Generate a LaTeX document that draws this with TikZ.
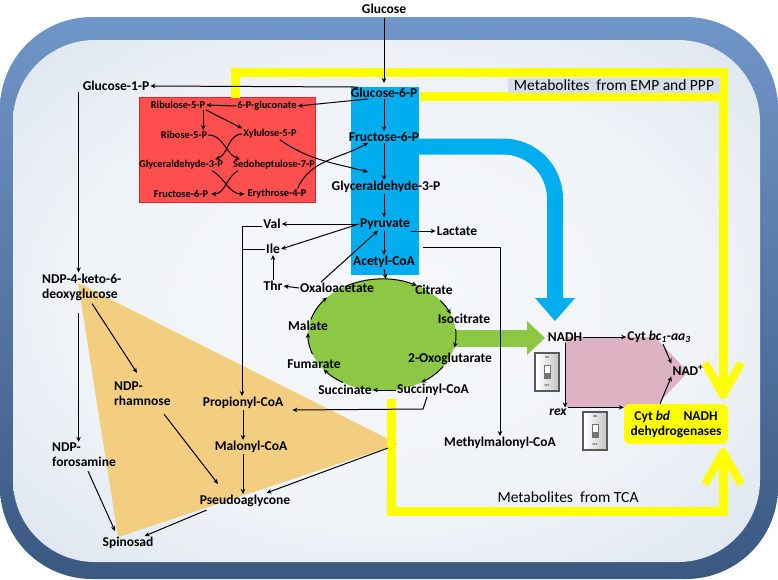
\documentclass[tikz,border=0pt]{standalone}
\usepackage{fontspec}
\setmainfont{Carlito}
\usetikzlibrary{arrows.meta,calc,shapes.geometric}
\definecolor{cellblue}{RGB}{112,150,200}
\definecolor{cellmid}{RGB}{95,130,178}
\definecolor{celldark}{RGB}{58,88,128}
\definecolor{cellin}{RGB}{200,212,228}
\definecolor{cellctr}{RGB}{246,248,251}
\definecolor{redbox}{RGB}{255,78,78}
\definecolor{redline}{RGB}{226,36,36}
\definecolor{cyanbox}{RGB}{0,174,239}
\definecolor{tcagreen}{RGB}{141,200,68}
\definecolor{tri}{RGB}{243,206,128}
\definecolor{pinkpoly}{RGB}{221,178,195}
\definecolor{ylw}{RGB}{255,255,0}
\definecolor{labgrey}{RGB}{214,222,233}
\pgfdeclareradialshading{cellshade}{\pgfpoint{0bp}{0bp}}{%
  color(0bp)=(cellctr); color(22bp)=(cellctr!85!cellin); color(40bp)=(cellctr!35!cellin);
  color(50bp)=(cellin); color(72bp)=(cellin!92!black)}
\tikzset{
  lightswitch/.pic={
    \draw[line width=1.2pt, draw=black!65, fill=white] (-12,-19) rectangle (12,19);
    \shade[left color=white, right color=black!22] (-10.5,-17.5) rectangle (10.5,17.5);
    \node[font=\fontsize{3}{3}\selectfont, inner sep=0pt] (-on) at (0,-14) {ON};
    \node[font=\fontsize{3}{3}\selectfont, inner sep=0pt] (-off) at (0,14) {OFF};
    \fill[black!55] (-3.5,-7) rectangle (3.5,7);
    \fill[white] (-2.5,-6) rectangle (2.5,1);
  }
}
\begin{document}
\begin{tikzpicture}[x=1pt,y=-1pt,
  lbl/.style={font=\bfseries\fontsize{13.5}{15}\selectfont, inner sep=1pt},
  rlbl/.style={font=\bfseries\fontsize{10.4}{12}\selectfont, inner sep=1pt},
  twol/.style={lbl, align=left, anchor=west},
  arr/.style={-{Stealth[length=5pt,width=4.5pt]}, line width=1pt},
  ln/.style={line width=1pt},
  ypath/.style={draw=ylw, line width=9pt},
  ychev/.style={draw=ylw, line width=8pt, line join=round},
  meta/.style={font=\fontsize{15.5}{17}\selectfont, inner sep=1pt}
]
\useasboundingbox (0,0) rectangle (778,579);
% cell
\shade[top color=cellblue, middle color=cellmid, bottom color=celldark, rounded corners=92pt] (0,17) rectangle (778,579);
\shade[shading=cellshade, rounded corners=82pt] (13,40) rectangle (760,562);

% coloured areas
\fill[tri] (78,283) -- (398,444) -- (118,537) -- cycle;
\draw[redline, fill=redbox, line width=1pt] (139,97) rectangle (315,202);
\fill[cyanbox] (351,87) rectangle (419,275);
\coordinate (tca) at (382,335);
\fill[tcagreen] (tca) ellipse [x radius=74, y radius=56];

\draw[cyanbox, line width=16pt] (415,146.5) -- (503,146.5) arc[start angle=-90, end angle=0, radius=52] -- (555,300);
\fill[cyanbox] (535,298) -- (575,298) -- (555,321) -- cycle;
\fill[tcagreen] (450,329.5) rectangle (528,346.5);
\fill[tcagreen] (527,321) -- (545,338) -- (527,355) -- cycle;
\fill[pinkpoly] (565,337) -- (655,337) -- (688,372) -- (655,407) -- (565,407) -- cycle;

% yellow paths
\draw[ypath, line join=miter] (235,98) -- (235,72.5) -- (723,72.5) -- (723,392);
\draw[ypath] (420,96.5) -- (723,96.5);
\draw[ychev] (705,363) -- (723,395) -- (741,363);
\draw[ypath, line join=miter] (391,399) -- (391,511.5) -- (723,511.5) -- (723,456);
\draw[ychev] (705,484) -- (723,452) -- (741,484);

\node[meta, fill=labgrey, minimum width=212pt, minimum height=15pt] (emp) at (614,85) {Metabolites~ from EMP and PPP};
\node[meta] (tcalab) at (568,497) {Metabolites~ from TCA};

% nodes
\node[lbl] (glc) at (384,9) {Glucose};
\node[lbl] (g6p) at (384,93) {Glucose-6-P};
\node[lbl] (f6p) at (384,137) {Fructose-6-P};
\node[lbl] (gap) at (386,187) {Glyceraldehyde-3-P};
\node[lbl] (pyr) at (385,224) {Pyruvate};
\node[lbl] (acoa) at (384,262) {Acetyl-CoA};
\node[lbl] (g1p) at (116,86) {Glucose-1-P};
\node[rlbl] (r5pu) at (178,105) {Ribulose-5-P};
\node[rlbl] (pglu) at (267,106) {6-P-gluconate};
\node[rlbl] (r5p) at (184,135) {Ribose-5-P};
\node[rlbl] (x5p) at (270,134) {Xylulose-5-P};
\node[rlbl] (rgap) at (181,165) {Glyceraldehyde-3-P};
\node[rlbl] (s7p) at (274,165) {Sedoheptulose-7-P};
\node[rlbl] (rf6p) at (181,194) {Fructose-6-P};
\node[rlbl] (e4p) at (277,194) {Erythrose-4-P};
\node[lbl] (val) at (272,224) {Val};
\node[lbl] (ile) at (273,249) {Ile};
\node[lbl] (thr) at (273,286) {Thr};
\node[lbl] (oaa) at (337,288) {Oxaloacetate};
\node[lbl] (cit) at (434,290) {Citrate};
\node[lbl] (icit) at (464,319) {Isocitrate};
\node[lbl] (oxo) at (450,359) {2-Oxoglutarate};
\node[lbl] (scoa) at (433,390) {Succinyl-CoA};
\node[lbl] (succ) at (345,390) {Succinate};
\node[lbl] (fum) at (314,364) {Fumarate};
\node[lbl] (mal) at (308,326) {Malate};
\node[lbl] (lac) at (457,231) {Lactate};
\node[lbl] (mmcoa) at (500,443) {Methylmalonyl-CoA};
\node[twol] (ndpk) at (41,287) {NDP-4-keto-6-\\deoxyglucose};
\node[twol] (ndpr) at (113,394) {NDP-\\rhamnose};
\node[twol] (ndpf) at (51,455) {NDP-\\forosamine};
\node[lbl] (spin) at (128,543) {Spinosad};
\node[lbl] (pcoa) at (243,403) {Propionyl-CoA};
\node[lbl] (mcoa) at (251,447) {Malonyl-CoA};
\node[lbl] (pagl) at (245,501) {Pseudoaglycone};
\node[lbl] (nadh) at (565,337) {NADH};
\node[lbl] (cytbc) at (659,337) {Cyt \textit{bc}\textsubscript{\textit{1}}-\textit{aa}\textsubscript{\textit{3}}};
\node[lbl] (nadp) at (688,370) {NAD\textsuperscript{+}};
\node[lbl] (rex) at (558,412) {\textit{rex}};
\node[lbl, fill=ylw, rounded corners=6pt, minimum width=104pt, minimum height=40pt, align=center] (cytbd) at (676,424) {Cyt \textit{bd}\quad NADH\\dehydrogenases};

\pic (sw1) at (547,372) {lightswitch};
\pic (sw2) at (595,431) {lightswitch};

% connectors: glycolysis and PPP
\draw[arr, shorten <=3pt, shorten >=4pt] (glc.south) -- (g6p.north);
\draw[arr] (g6p.167) -- (g1p.east);
\draw[arr] (g6p.200) -- (pglu.east);
\draw[arr] (pglu.west) -- (r5pu.east);
\coordinate (c0) at ([xshift=-3pt]r5pu.south east);
\draw[arr] (c0) -- (c0 |- r5p.north);
\draw[arr] (r5pu.-10) -- (x5p.north west);
\draw[arr] (r5p.east) to[out=0,in=160] ($(s7p.north west)+(8,0)$);
\draw[arr] (x5p.west) to[out=180,in=20] ($(rgap.north east)+(-9,0)$);
\draw[arr] ($(rgap.south east)+(-12,0)$) to[out=-30,in=180] ($(e4p.west)+(-2,0)$);
\draw[arr] ($(s7p.south west)+(6,0)$) to[out=-150,in=0] ($(rf6p.east)+(2,0)$);
\draw[arr] ($(x5p.south east)+(-18,0)$) to[out=-35,in=165] ($(gap.north)+(-18,-8)$);
\draw[arr] ($(e4p.north east)+(-10,0)$) to[out=65,in=210] ($(f6p.south)+(-16,0)$);

\draw[arr] (g6p.south) -- (f6p.north);
\draw[arr] (f6p.south) -- (f6p.south |- gap.north);
\draw[arr] (f6p.south |- gap.south) -- (f6p.south |- pyr.north);
\draw[arr] (acoa.north |- pyr.south) -- (acoa.north);

% pyruvate branches
\draw[arr] (pyr.west) -- (val.east);
\draw[arr] (pyr.west) -- (ile.east);
\draw[arr] (thr.north) -- (ile.south);
\draw[arr] (oaa.west) -- (thr.east);
\draw[arr] ($(oaa.north)+(-16,0)$) -- ($(pyr.south)+(-7,0)$);
\draw[arr] (pyr.east |- lac.west) -- (lac.west);
\coordinate (mmsrc) at (423,247);
\draw[arr] (mmsrc) -| (mmcoa.north);

\coordinate (vi) at (242,226);
\draw[ln] (val.west |- vi) -- (vi);
\draw[arr] (vi) -- (vi |- pcoa.north);
\draw[ln] (ile.west) -- (ile.west -| vi);
\draw[arr] ($(scoa.south)+(-6,0)$) -- ($(scoa.south)+(-10,12)$) -- ($(pcoa.east)+(8,7)$);

% TCA cycle
\draw[arr] (acoa.south) -- ($(tca)+(273:74 and 56)$);
\draw[arr] ($(tca)+(240:74 and 56)$) arc[start angle=240, end angle=298, x radius=74, y radius=56];
\draw[arr] ($(tca)+(322:74 and 56)$) arc[start angle=322, end angle=338, x radius=74, y radius=56];
\draw[arr] ($(tca)+(354:74 and 56)$) arc[start angle=354, end angle=373, x radius=74, y radius=56];
\draw[arr] ($(tca)+(34:74 and 56)$) arc[start angle=34, end angle=58, x radius=74, y radius=56];
\draw[arr] (scoa.west) -- (succ.east);
\draw[arr] ($(tca)+(122:74 and 56)$) arc[start angle=122, end angle=142, x radius=74, y radius=56];
\draw[arr] ($(tca)+(160:74 and 56)$) arc[start angle=160, end angle=182, x radius=74, y radius=56];
\draw[arr] ($(tca)+(196:74 and 56)$) arc[start angle=196, end angle=222, x radius=74, y radius=56];

% spinosad branch
\coordinate (c1) at ([xshift=-3pt]g1p.south west);
\draw[arr] (c1) -- (c1 |- ndpk.north);
\path (c1 |- ndpk.south) ++(0,11) coordinate (c2);
\draw[arr] (c2) -- (c2 |- ndpf.north);
\draw[arr] ($(ndpk.south west)+(51,2)$) -- ($(ndpr.north west)+(24,-8)$);
\draw[arr] ($(ndpf.south west)+(37,3)$) -- ($(spin.north)+(-13,-5)$);
\draw[arr] ($(ndpr.south west)+(51,7)$) -- ($(pagl.north)+(-27,-10)$);
\draw[arr] (pcoa.south) -- (pcoa.south |- mcoa.north);
\draw[arr] (pcoa.south |- mcoa.south) -- (pcoa.south |- pagl.north);
\draw[arr] ($(pagl.south west)+(8,2)$) -- ($(spin.north east)+(-10,0)$);
\coordinate (ttip) at (388,448);
\draw[arr] (ttip) -- ($(pagl.north east)+(-25,-1)$);

% respiratory chain
\draw[arr] (nadh.east) -- (cytbc.west);
\draw[arr] ($(cytbc.south)+(4,0)$) -- (nadp.north west);
\draw[arr] ($(cytbd.north)+(-16,0)$) -- (nadp.south west);
\draw[arr] (nadh.south) -- (nadh.south |- rex.north);
\draw[arr] (rex.north east) -- (rex.north east -| cytbd.west);
\end{tikzpicture}
\end{document}
